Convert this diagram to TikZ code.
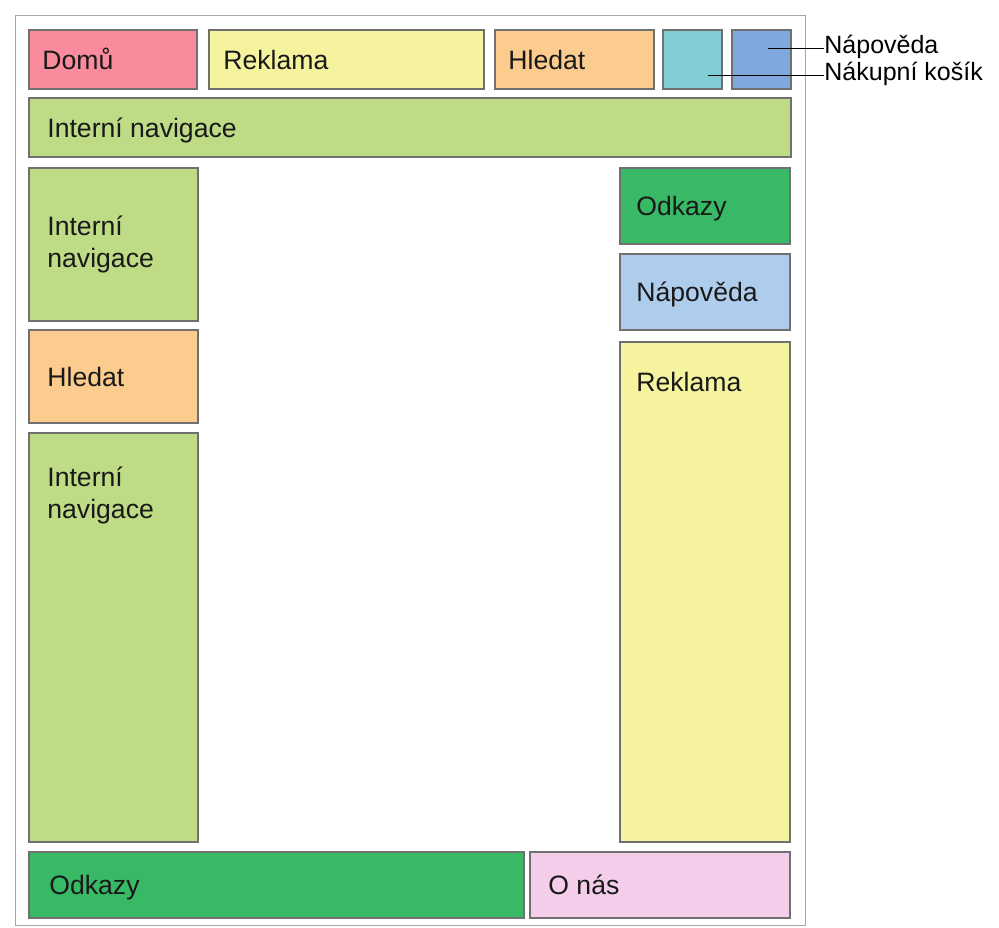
\documentclass[tikz,border=0pt]{standalone}
\usepackage{fontspec}
\setmainfont{Liberation Sans}
\usetikzlibrary{positioning}
\usepackage{xcolor}

\definecolor{ramec}{HTML}{A6A6A6}
\definecolor{okraj}{HTML}{707070}
\definecolor{cervena}{HTML}{F98B9C}
\definecolor{zluta}{HTML}{F6F39E}
\definecolor{oranzova}{HTML}{FBCC8E}
\definecolor{tyrkys}{HTML}{80CDD3}
\definecolor{modra}{HTML}{7FA9DD}
\definecolor{svzelena}{HTML}{BEDB85}
\definecolor{zelena}{HTML}{38B966}
\definecolor{svmodra}{HTML}{AECCEB}
\definecolor{ruzova}{HTML}{F3CDE9}

\tikzset{
  blok/.style={draw=okraj, line width=0.7pt, anchor=north west, inner sep=0pt, outer sep=0pt},
  popis/.style={inner sep=0pt, text=black!90, font=\fontsize{13.3}{16}\selectfont, align=left},
  radek/.style={popis, anchor=west, text height=9.5pt, text depth=0pt},
  vysvetl/.style={anchor=west, inner sep=0pt, font=\fontsize{12.5}{14}\selectfont}
}

\begin{document}
\begin{tikzpicture}[x=0.5pt, y=-0.5pt]
	\useasboundingbox (0,0) rectangle (999,927);
	\draw[ramec, line width=0.5pt] (15,15) rectangle (805,925);

	% horni lista
	\node[blok, fill=cervena, minimum width=84pt, minimum height=29.5pt] (domu) at (29,30) {};
	\node[blok, fill=zluta, minimum width=137.5pt, minimum height=29.5pt] (reklama1) at (209,30) {};
	\node[blok, fill=oranzova, minimum width=79.5pt, minimum height=29.5pt] (hledat1) at (495,30) {};
	\node[blok, fill=tyrkys, minimum width=29.5pt, minimum height=29.5pt] (kosik) at (663,30) {};
	\node[blok, fill=modra, minimum width=29.5pt, minimum height=29.5pt] (napoveda1) at (732,30) {};
	\node[blok, fill=svzelena, minimum width=381pt, minimum height=29.5pt] (navig1) at (29,98) {};

	% levy sloupec
	\node[blok, fill=svzelena, minimum width=84.5pt, minimum height=76.5pt] (navig2) at (29,168) {};
	\node[blok, fill=oranzova, minimum width=84.5pt, minimum height=46.5pt] (hledat2) at (29,330) {};
	\node[blok, fill=svzelena, minimum width=84.5pt, minimum height=204.5pt] (navig3) at (29,433) {};

	% pravy sloupec
	\node[blok, fill=zelena, minimum width=85pt, minimum height=38pt] (odkazy1) at (620,168) {};
	\node[blok, fill=svmodra, minimum width=85pt, minimum height=38pt] (napoveda2) at (620,254) {};
	\node[blok, fill=zluta, minimum width=85pt, minimum height=250pt] (reklama2) at (620,342) {};

	% paticka
	\node[blok, fill=zelena, minimum width=247.5pt, minimum height=33pt] (odkazy2) at (29,852) {};
	\node[blok, fill=ruzova, minimum width=130pt, minimum height=33pt] (onas) at (530,852) {};

	% texty v blocich
	\node[radek, right=6.5pt of domu.west] (domu-t) {Domů};
	\node[radek, right=7pt of reklama1.west] (reklama1-t) {Reklama};
	\node[radek, right=6.5pt of hledat1.west] (hledat1-t) {Hledat};
	\node[radek, right=9pt of navig1.west] (navig1-t) {Interní navigace};
	\node[popis, anchor=west, right=9pt of navig2.west] (navig2-t) {Interní\\navigace};
	\node[radek, right=9pt of hledat2.west] (hledat2-t) {Hledat};
	\node[popis, below right=16.5pt and 9pt of navig3.north west] (navig3-t) {Interní\\navigace};
	\node[radek, right=8pt of odkazy1.west] (odkazy1-t) {Odkazy};
	\node[radek, right=8pt of napoveda2.west] (napoveda2-t) {Nápověda};
	\node[popis, below right=15pt and 8pt of reklama2.north west] (reklama2-t) {Reklama};
	\node[radek, right=10pt of odkazy2.west] (odkazy2-t) {Odkazy};
	\node[radek, right=9pt of onas.west] (onas-t) {O nás};

	% popisky vpravo
	\node[vysvetl] (napoveda-l) at (824,47) {Nápověda};
	\node[vysvetl] (kosik-l) at (824,74) {Nákupní košík};
	\coordinate (napoveda-k) at (768,48);
	\coordinate (kosik-k) at (708,75);
	\draw[line width=0.5pt] (napoveda-k) -- (napoveda-l.west |- napoveda-k);
	\draw[line width=0.5pt] (kosik-k) -- (kosik-l.west |- kosik-k);
\end{tikzpicture}
\end{document}
